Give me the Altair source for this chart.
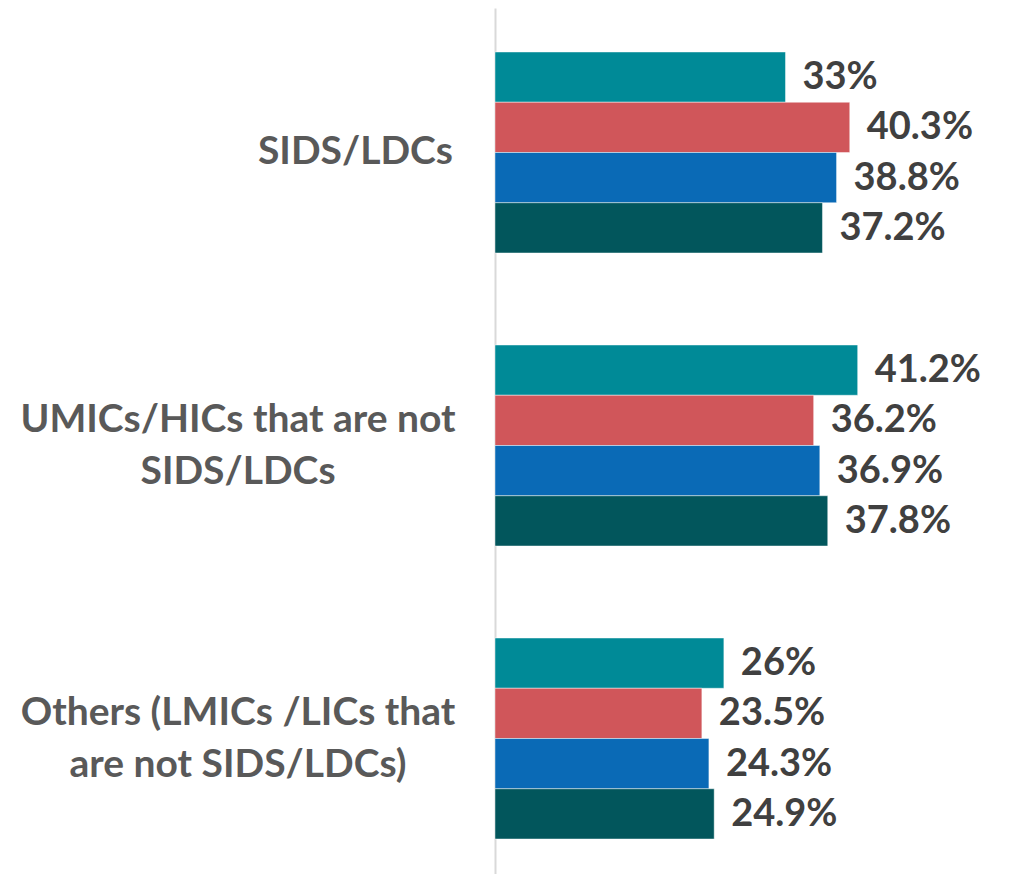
import altair as alt
import pandas as pd

categories = [
    "SIDS/LDCs",
    "UMICs/HICs that are not\nSIDS/LDCs",
    "Others (LMICs /LICs that\nare not SIDS/LDCs)",
]
series = ["Series 1", "Series 2", "Series 3", "Series 4"]
series1 = [33.0, 41.2, 26.0]
series2 = [40.3, 36.2, 23.5]
series3 = [38.8, 36.9, 24.3]
series4 = [37.2, 37.8, 24.9]
colors = ["#008A97", "#D0565A", "#0A6AB6", "#02565C"]

rows = []
for i, cat in enumerate(categories):
    for s, vals in zip(series, [series1, series2, series3, series4]):
        rows.append({"category": cat, "series": s, "value": vals[i]})
df = pd.DataFrame(rows)

lab_df = pd.DataFrame({"category": categories,
                       "multi": ["\n" in c for c in categories]})

y_scale = alt.Scale(domain=categories, paddingInner=0.314, paddingOuter=0.1348, align=0.557)
y_enc = alt.Y(
    "category:N",
    sort=categories,
    scale=y_scale,
    axis=alt.Axis(
        title=None,
        ticks=False,
        grid=False,
        labels=False,
        domainColor="#d9d9d9",
        domainWidth=2,
    ),
)
yoff = alt.YOffset("series:N", sort=series, scale=alt.Scale(paddingInner=0, paddingOuter=0))
x_enc = alt.X("value:Q", scale=alt.Scale(domain=[0, 56.8], nice=False, zero=True), axis=None)

base = alt.Chart(df).encode(y=y_enc, yOffset=yoff, x=x_enc)

bars = base.mark_bar(stroke="white", strokeWidth=1, strokeOpacity=0.45).encode(
    color=alt.Color("series:N", sort=series, scale=alt.Scale(domain=series, range=colors), legend=None)
)

texts = base.transform_calculate(
    label="format(datum.value, '.1~f') + '%'"
).mark_text(
    align="left", baseline="middle", dx=17, dy=1,
    font="Lato", fontWeight="bold", fontSize=38, color="#404040"
).encode(text="label:N")

lab_style = dict(baseline="middle", font="Lato", fontWeight="bold", fontSize=39,
                 color="#595959", lineBreak="\n", lineHeight=52)

single_labels = alt.Chart(lab_df).transform_filter("!datum.multi").mark_text(
    align="right", **lab_style
).encode(
    y=alt.Y("category:N", sort=categories, scale=y_scale),
    x=alt.value(-42),
    text="category:N",
)
multi_labels = alt.Chart(lab_df).transform_filter("datum.multi").mark_text(
    align="center", dy=-26, **lab_style
).encode(
    y=alt.Y("category:N", sort=categories, scale=y_scale),
    x=alt.value(-257),
    text="category:N",
)

chart = (bars + texts + single_labels + multi_labels).properties(
    width=500,
    height=866,
    autosize=alt.AutoSizeParams(type="none"),
    padding={"left": 487, "top": 0, "right": 0, "bottom": 0},
).configure(background="white").configure_view(stroke=None)

chart.save("out.html", embed_options={"renderer": "svg", "actions": False})
